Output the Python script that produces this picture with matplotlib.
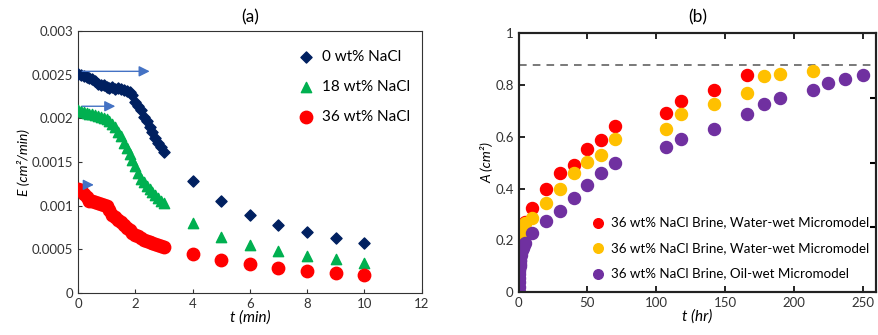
import numpy as np
import matplotlib.pyplot as plt

plt.rcParams['font.family'] = ['Lato', 'DejaVu Sans']

# ---- panel (a): evaporation rate E vs time ----
t_a = [0.0, 0.1, 0.2, 0.3, 0.4, 0.5, 0.6, 0.7, 0.8, 0.9, 1.0, 1.1, 1.2, 1.3, 1.4, 1.5,
       1.6, 1.7, 1.8, 1.9, 2.0, 2.1, 2.2, 2.3, 2.4, 2.5, 2.6, 2.7, 2.8, 2.9, 3.0,
       4, 5, 6, 7, 8, 9, 10]
E_0 = [0.00251, 0.00250, 0.00249, 0.00248, 0.00246, 0.00245, 0.00243, 0.00240, 0.00238, 0.00238,
       0.00236, 0.00235, 0.00236, 0.00234, 0.00235, 0.00234, 0.00233, 0.00232, 0.00230, 0.00227,
       0.00219, 0.00214, 0.00210, 0.00202, 0.00197, 0.00190, 0.00184, 0.00178, 0.00172, 0.00167,
       0.00162, 0.00128, 0.00106, 0.00089, 0.00078, 0.00070, 0.00063, 0.00057]
E_18 = [0.00210, 0.00208, 0.00207, 0.00206, 0.00205, 0.00205, 0.00204, 0.00203, 0.00202, 0.00200,
        0.00199, 0.00197, 0.00194, 0.00190, 0.00185, 0.00180, 0.00172, 0.00166, 0.00159, 0.00152,
        0.00146, 0.00138, 0.00131, 0.00127, 0.00123, 0.00119, 0.00116, 0.00112, 0.00109, 0.00106,
        0.00103, 0.00080, 0.00064, 0.00055, 0.00048, 0.00042, 0.00039, 0.00035]
E_36 = [0.00119, 0.00118, 0.00114, 0.00110, 0.00106, 0.00105, 0.00104, 0.00103, 0.00102, 0.00101,
        0.00100, 0.00095, 0.00090, 0.00087, 0.00084, 0.00081, 0.00078, 0.00075, 0.00072, 0.00069,
        0.00067, 0.00065, 0.00063, 0.00061, 0.00060, 0.00059, 0.00057, 0.00056, 0.00055, 0.00054,
        0.00053, 0.00045, 0.00038, 0.00033, 0.00029, 0.00025, 0.00023, 0.00021]
labels_a = ['0 wt% NaCl', '18 wt% NaCl', '36 wt% NaCl']

# arrows: (t_start, t_end, E)
arrows_a = [(0.05, 2.6, 0.00254), (0.05, 1.4, 0.00214), (0.25, 0.65, 0.00124)]

# ---- panel (b): area A vs time ----
t_red = [0, 0.5, 1, 2, 3, 4, 5, 10, 20, 30, 40, 50, 60, 70, 107, 118, 142, 166]
A_red = [0.17, 0.19, 0.21, 0.23, 0.25, 0.26, 0.27, 0.324, 0.397, 0.46, 0.49, 0.552, 0.587,
         0.641, 0.69, 0.737, 0.78, 0.838]
t_yel = [0, 0.25, 0.5, 1, 1.5, 2, 3, 4, 5, 10, 20, 30, 40, 50, 60, 70, 107, 118, 142, 166,
         178, 190, 214]
A_yel = [0.13, 0.15, 0.17, 0.19, 0.205, 0.22, 0.24, 0.255, 0.265, 0.285, 0.343, 0.40, 0.46,
         0.503, 0.528, 0.59, 0.628, 0.686, 0.725, 0.77, 0.834, 0.842, 0.855]
t_pur = [0, 0.1, 0.2, 0.3, 0.4, 0.5, 0.6, 0.7, 0.8, 0.9, 1, 1.25, 1.5, 2, 2.5, 3, 3.5, 4, 5,
         10, 20, 30, 40, 50, 60, 70, 107, 118, 142, 166, 178, 190, 214, 225, 237.5, 250]
A_pur = [0, 0.02, 0.04, 0.055, 0.07, 0.08, 0.09, 0.10, 0.11, 0.12, 0.125, 0.135, 0.145, 0.155,
         0.163, 0.17, 0.177, 0.183, 0.19, 0.23, 0.275, 0.315, 0.362, 0.412, 0.46, 0.497, 0.56,
         0.593, 0.628, 0.686, 0.725, 0.75, 0.78, 0.808, 0.822, 0.838]
labels_b = ['36 wt% NaCl Brine, Water-wet Micromodel',
            '36 wt% NaCl Brine, Water-wet Micromodel',
            '36 wt% NaCl Brine, Oil-wet Micromodel']
A_max = 0.876

tick_col = '#333333'

fig = plt.figure(figsize=(8.79, 3.35), dpi=100)
ax1 = fig.add_axes([0.0887, 0.125, 0.391, 0.782])
ax2 = fig.add_axes([0.590, 0.128, 0.407, 0.773])

# panel (a)
ax1.scatter(t_a, E_0, marker='D', s=32, color='#002060', label=labels_a[0], zorder=3)
ax1.scatter(t_a, E_18, marker='^', s=55, color='#00B050', label=labels_a[1], zorder=3)
ax1.scatter(t_a, E_36, marker='o', s=80, color='#FF0000', label=labels_a[2], zorder=3)
for t0, t1, e in arrows_a:
    ax1.annotate('', xy=(t1, e), xytext=(t0, e),
                 arrowprops=dict(arrowstyle='-|>', color='#4472C4', lw=1, mutation_scale=16))
ax1.set_xlim(0, 12)
ax1.set_ylim(0, 0.003)
ax1.set_xticks(np.arange(0, 13, 2))
ax1.set_yticks(np.arange(0, 0.0031, 0.0005))
ax1.set_yticklabels(['0', '0.0005', '0.001', '0.0015', '0.002', '0.0025', '0.003'])
ax1.tick_params(direction='in', length=3, labelsize=9.5, colors='#333333',
                labelcolor=tick_col)
ax1.set_xlabel('t (min)', style='italic', fontsize=11, labelpad=0)
ax1.set_ylabel('E (cm²/min)', style='italic', fontsize=10, labelpad=2)
ax1.set_title('(a)', fontsize=12.5, pad=6)
for s in ax1.spines.values():
    s.set_color('#333333')
ax1.legend(loc='upper left', bbox_to_anchor=(0.6, 0.95), frameon=False, fontsize=11,
           handletextpad=0.1, labelspacing=1.05, borderaxespad=0)

# panel (b)
ax2.scatter(t_red, A_red, s=75, color='#FF0000', label=labels_b[0], zorder=3)
ax2.scatter(t_yel, A_yel, s=75, color='#FFC000', label=labels_b[1], zorder=4)
ax2.scatter(t_pur, A_pur, s=75, color='#7030A0', label=labels_b[2], zorder=5)
ax2.axhline(A_max, color='#555555', lw=1.1, ls=(0, (5, 4)))
ax2.set_xlim(0, 260)
ax2.set_ylim(0, 1)
ax2.set_xticks(np.arange(0, 251, 50))
ax2.set_yticks(np.arange(0, 1.01, 0.2))
ax2.set_yticklabels(['0', '0.2', '0.4', '0.6', '0.8', '1'])
ax2.tick_params(direction='in', length=4, width=1.2, labelsize=9.5, labelcolor=tick_col,
                top=True)
ax2r = ax2.twinx()
ax2r.set_ylim(0, 1)
ax2r.set_yticks([0.25, 0.5, 0.75])
ax2r.tick_params(direction='in', length=4, width=1.5, labelright=False)
ax2.set_xlabel('t (hr)', style='italic', fontsize=11, labelpad=0)
ax2.set_ylabel('A (cm²)', style='italic', fontsize=10, labelpad=2)
ax2.set_title('(b)', fontsize=12.5, pad=8)
for a in (ax2, ax2r):
    for s in a.spines.values():
        s.set_linewidth(1.5)
        s.set_color('#222222')
ax2.legend(loc='lower left', bbox_to_anchor=(0.17, 0.03), frameon=False, fontsize=9.6,
           handletextpad=0.0, labelspacing=1.0, borderaxespad=0, markerscale=0.8)

fig.savefig('out.png', dpi=100)
